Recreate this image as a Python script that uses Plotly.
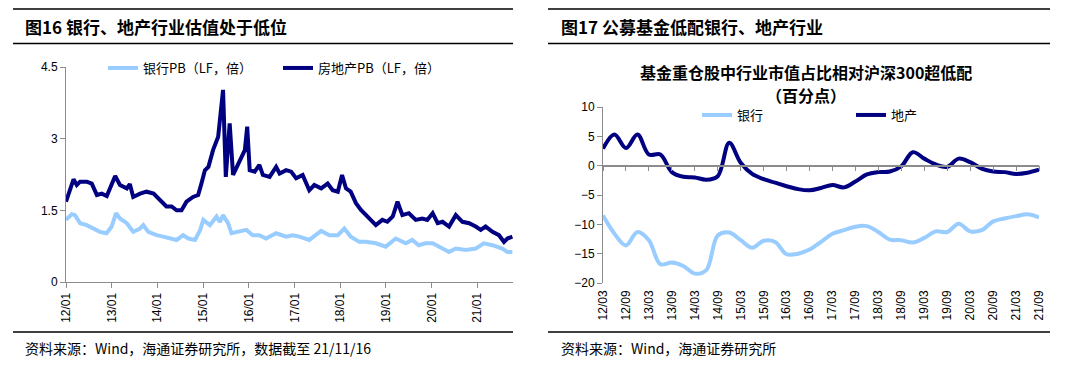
import plotly.graph_objects as go

W, H = 1080, 369

# ---------------- Left chart data (PB, LF, times) ----------------
re_pb_dates = [
    "2012-01-01", "2012-02-05", "2012-03-01", "2012-03-27", "2012-04-23", "2012-06-15",
    "2012-07-25", "2012-09-04", "2012-10-13", "2012-11-22", "2013-01-28", "2013-03-07",
    "2013-05-01", "2013-05-25", "2013-06-21", "2013-08-15", "2013-10-06", "2013-12-01",
    "2014-01-21", "2014-03-13", "2014-04-24", "2014-06-03", "2014-07-12", "2014-08-21",
    "2014-10-12", "2014-11-22", "2014-12-18", "2015-01-15", "2015-02-12", "2015-03-21",
    "2015-05-01", "2015-06-09", "2015-07-01", "2015-08-01", "2015-08-28", "2015-10-19",
    "2015-11-30", "2015-12-19", "2016-01-08", "2016-02-17", "2016-03-25", "2016-04-22",
    "2016-06-15", "2016-08-06", "2016-09-03", "2016-10-25", "2016-12-04", "2017-01-13",
    "2017-03-06", "2017-04-28", "2017-06-07", "2017-08-01", "2017-09-22", "2017-11-01",
    "2017-12-12", "2018-01-15", "2018-02-15", "2018-03-25", "2018-05-06", "2018-06-15",
    "2018-08-06", "2018-10-12", "2018-12-03", "2019-01-12", "2019-02-24", "2019-04-03",
    "2019-05-12", "2019-07-03", "2019-08-27", "2019-10-18", "2019-11-27", "2020-01-09",
    "2020-02-18", "2020-03-28", "2020-05-19", "2020-07-12", "2020-09-03", "2020-10-27",
    "2020-12-18", "2021-01-27", "2021-03-07", "2021-05-01", "2021-06-22", "2021-08-01",
    "2021-08-28", "2021-10-07",
]
re_pb = [
    1.68, 1.92, 2.15, 2.03, 2.10, 2.10,
    2.06, 1.82, 1.85, 1.80, 2.22, 2.03,
    1.96, 2.05, 1.78, 1.85, 1.89, 1.85,
    1.72, 1.58, 1.58, 1.50, 1.50, 1.68,
    1.78, 1.82, 2.06, 2.34, 2.41, 2.76,
    3.04, 4.02, 2.20, 3.32, 2.24, 2.55,
    2.76, 3.25, 2.34, 2.31, 2.45, 2.24,
    2.20, 2.41, 2.27, 2.34, 2.31, 2.17,
    2.24, 1.92, 2.03, 1.96, 2.06, 1.92,
    1.89, 2.24, 1.96, 1.89, 1.65, 1.51,
    1.37, 1.19, 1.30, 1.26, 1.37, 1.68,
    1.40, 1.44, 1.30, 1.33, 1.30, 1.44,
    1.23, 1.26, 1.16, 1.40, 1.26, 1.23,
    1.16, 1.09, 1.16, 1.05, 0.98, 0.84,
    0.91, 0.95,
]
bank_pb_dates = [
    "2012-01-01", "2012-02-17", "2012-03-13", "2012-04-23", "2012-06-15", "2012-08-06",
    "2012-09-28", "2012-11-20", "2012-12-31", "2013-02-04", "2013-03-07", "2013-05-01",
    "2013-06-21", "2013-08-15", "2013-09-10", "2013-10-20", "2013-12-25", "2014-02-15",
    "2014-04-10", "2014-06-03", "2014-07-25", "2014-09-05", "2014-10-28", "2014-12-08",
    "2015-01-02", "2015-02-24", "2015-04-18", "2015-05-15", "2015-06-09", "2015-07-19",
    "2015-08-15", "2015-10-06", "2015-12-12", "2016-02-02", "2016-03-25", "2016-05-17",
    "2016-08-06", "2016-10-25", "2016-12-17", "2017-02-08", "2017-04-28", "2017-08-01",
    "2017-10-06", "2017-12-12", "2018-02-02", "2018-03-25", "2018-06-02", "2018-07-25",
    "2018-10-12", "2018-12-30", "2019-03-20", "2019-06-08", "2019-07-30", "2019-09-20",
    "2019-11-12", "2020-01-09", "2020-03-28", "2020-05-19", "2020-07-12", "2020-10-01",
    "2020-12-18", "2021-02-20", "2021-05-01", "2021-07-18", "2021-08-28", "2021-10-07",
]
bank_pb = [
    1.30, 1.42, 1.40, 1.23, 1.19, 1.12,
    1.05, 1.02, 1.16, 1.44, 1.33, 1.23,
    1.05, 1.12, 1.19, 1.05, 0.98, 0.95,
    0.91, 0.88, 0.98, 0.91, 0.88, 1.09,
    1.30, 1.19, 1.37, 1.26, 1.40, 1.23,
    1.02, 1.05, 1.09, 0.98, 0.98, 0.91,
    1.02, 0.95, 0.98, 0.95, 0.88, 1.07,
    0.98, 0.98, 1.12, 0.95, 0.84, 0.84,
    0.81, 0.74, 0.91, 0.81, 0.88, 0.77,
    0.81, 0.81, 0.70, 0.63, 0.70, 0.67,
    0.70, 0.81, 0.77, 0.70, 0.63, 0.63,
]
left_year_ticks = ["2012-01-01", "2013-01-01", "2014-01-01", "2015-01-01", "2016-01-01",
                   "2017-01-01", "2018-01-01", "2019-01-01", "2020-01-01", "2021-01-01"]
left_y_ticks = [0, 1.5, 3, 4.5]

# ---------------- Right chart data (percentage points) ----------------
quarters = [
    "12/03", "12/06", "12/09", "12/12", "13/03", "13/06", "13/09", "13/12",
    "14/03", "14/06", "14/09", "14/12", "15/03", "15/06", "15/09", "15/12",
    "16/03", "16/06", "16/09", "16/12", "17/03", "17/06", "17/09", "17/12",
    "18/03", "18/06", "18/09", "18/12", "19/03", "19/06", "19/09", "19/12",
    "20/03", "20/06", "20/09", "20/12", "21/03", "21/06", "21/09",
]
bank_uw = [
    -8.5, -11.6, -13.6, -11.3, -12.7, -16.8, -16.5, -17.1,
    -18.4, -17.8, -11.9, -11.4, -12.7, -14.0, -12.8, -13.0,
    -15.1, -15.0, -14.3, -13.0, -11.6, -11.0, -10.4, -10.3,
    -11.3, -12.6, -12.7, -13.1, -12.3, -11.2, -11.3, -9.9,
    -11.2, -11.0, -9.5, -9.0, -8.6, -8.3, -8.8,
]
re_uw = [
    2.9, 5.3, 3.0, 5.3, 1.9, 1.9, -1.1, -1.9,
    -2.0, -2.4, -1.8, 3.9, 0.5, -1.4, -2.3, -2.9,
    -3.5, -4.0, -4.2, -3.8, -3.3, -3.7, -2.7, -1.5,
    -1.1, -1.0, -0.1, 2.3, 1.2, 0.2, -0.2, 1.2,
    0.6, -0.5, -1.0, -1.1, -1.4, -1.2, -0.7,
]
right_x_ticks = quarters[::2]
right_y_ticks = [-20, -15, -10, -5, 0, 5, 10]

NAVY = "#000080"
LIGHT = "#99CCFF"
AXIS = "#8C8C8C"
CJK = "Noto Sans CJK SC"
LAT = "Liberation Sans, Arial"

fig = go.Figure()

fig.add_trace(go.Scatter(x=bank_pb_dates, y=bank_pb, name="银行PB（LF，倍）", mode="lines",
                         line=dict(color=LIGHT, width=4), xaxis="x", yaxis="y", legend="legend"))
fig.add_trace(go.Scatter(x=re_pb_dates, y=re_pb, name="房地产PB（LF，倍）", mode="lines",
                         line=dict(color=NAVY, width=4), xaxis="x", yaxis="y", legend="legend"))

fig.add_trace(go.Scatter(x=quarters, y=bank_uw, name="银行", mode="lines",
                         line=dict(color=LIGHT, width=4, shape="spline", smoothing=1),
                         xaxis="x2", yaxis="y2", legend="legend2"))
fig.add_trace(go.Scatter(x=quarters, y=re_uw, name="地产", mode="lines",
                         line=dict(color=NAVY, width=4, shape="spline", smoothing=1),
                         xaxis="x2", yaxis="y2", legend="legend2"))
# helper (empty) trace so the zero-line axis with tick marks is drawn
fig.add_trace(go.Scatter(x=quarters, y=[None] * len(quarters), mode="lines", showlegend=False,
                         hoverinfo="skip", xaxis="x3", yaxis="y2"))

def px_x(p):
    return p / W

def px_y(p):
    return 1 - p / H

y_zero_frac = px_y(107) - (px_y(107) - px_y(283)) * (10 / 30)

fig.update_layout(
    width=W, height=H,
    margin=dict(l=0, r=0, t=0, b=0, autoexpand=False),
    paper_bgcolor="white", plot_bgcolor="white",
    font=dict(family=CJK, size=12, color="black"),
    xaxis=dict(domain=[px_x(66), px_x(513)], anchor="y", type="date", automargin=False,
               range=["2012-01-01", "2021-10-12"],
               tickvals=left_year_ticks, tickformat="%y/%m", tickangle=-90,
               ticks="outside", ticklen=5, tickcolor=AXIS, showline=True, linecolor=AXIS,
               linewidth=1, showgrid=False, zeroline=False,
               tickfont=dict(family=LAT, size=12, color="black")),
    yaxis=dict(domain=[px_y(282), px_y(67)], anchor="x", range=[0, 4.5], automargin=False,
               tickvals=left_y_ticks, ticktext=["0", "1.5", "3", "4.5"],
               ticks="outside", ticklen=5, tickcolor=AXIS, showline=True, linecolor=AXIS,
               linewidth=1, showgrid=False, zeroline=False,
               tickfont=dict(family=LAT, size=12, color="black")),
    xaxis2=dict(domain=[px_x(603), px_x(1039)], anchor="y2", type="category", automargin=False,
                categoryorder="array", categoryarray=quarters, range=[0, len(quarters) - 1],
                tickvals=right_x_ticks, tickangle=-90, ticks="", showline=False,
                showgrid=False, zeroline=False, ticklabelstandoff=4,
                tickfont=dict(family=LAT, size=12, color="black")),
    xaxis3=dict(domain=[px_x(603), px_x(1039)], anchor="free", position=y_zero_frac,
                overlaying="x2", type="category", categoryorder="array", automargin=False,
                categoryarray=quarters, range=[0, len(quarters) - 1],
                tickvals=right_x_ticks, showticklabels=False, ticks="outside", ticklen=5,
                tickcolor=AXIS, showline=True, linecolor=AXIS, linewidth=1.5,
                showgrid=False, zeroline=False),
    yaxis2=dict(domain=[px_y(283), px_y(107)], anchor="x2", range=[-20, 10], automargin=False,
                tickvals=right_y_ticks, ticks="outside", ticklen=5, tickcolor=AXIS,
                showline=True, linecolor=AXIS, linewidth=1, showgrid=False, zeroline=False,
                tickfont=dict(family=LAT, size=12, color="black")),
    legend=dict(orientation="h", x=px_x(103), y=px_y(68), xanchor="left", yanchor="middle",
                entrywidth=130, entrywidthmode="pixels", bgcolor="rgba(0,0,0,0)",
                font=dict(family=CJK, size=13), tracegroupgap=0),
    legend2=dict(orientation="h", x=px_x(697), y=px_y(115), xanchor="left", yanchor="middle",
                 entrywidth=109, entrywidthmode="pixels", bgcolor="rgba(0,0,0,0)",
                 font=dict(family=CJK, size=13), tracegroupgap=0),
    showlegend=True,
)

shapes = []
for x0, x1 in [(13, 513), (548, 1050)]:
    for yy in [9, 43.5, 332]:
        shapes.append(dict(type="line", xref="paper", yref="paper",
                           x0=px_x(x0), x1=px_x(x1), y0=px_y(yy), y1=px_y(yy),
                           line=dict(color="black", width=1.5)))
fig.update_layout(shapes=shapes)

annotations = [
    dict(text="<b>图16 银行、地产行业估值处于低位</b>", x=px_x(23), y=px_y(27),
         xanchor="left", yanchor="middle", font=dict(family=CJK, size=17, color="black")),
    dict(text="<b>图17 公募基金低配银行、地产行业</b>", x=px_x(559), y=px_y(27),
         xanchor="left", yanchor="middle", font=dict(family=CJK, size=17, color="black")),
    dict(text="<b>基金重仓股中行业市值占比相对沪深300超低配</b>", x=px_x(806), y=px_y(72),
         xanchor="center", yanchor="middle", font=dict(family=CJK, size=16, color="black")),
    dict(text="<b>（百分点）</b>", x=px_x(806), y=px_y(95),
         xanchor="center", yanchor="middle", font=dict(family=CJK, size=16, color="black")),
    dict(text="资料来源：Wind，海通证券研究所，数据截至 21/11/16", x=px_x(23), y=px_y(348),
         xanchor="left", yanchor="middle", font=dict(family=CJK, size=14, color="black")),
    dict(text="资料来源：Wind，海通证券研究所", x=px_x(559), y=px_y(348),
         xanchor="left", yanchor="middle", font=dict(family=CJK, size=14, color="black")),
]
for a in annotations:
    a.update(xref="paper", yref="paper", showarrow=False)
fig.update_layout(annotations=annotations)

fig.write_html("out.html", config={"displayModeBar": False},
               post_script="document.body.style.margin='0';document.body.style.overflow='hidden';")
